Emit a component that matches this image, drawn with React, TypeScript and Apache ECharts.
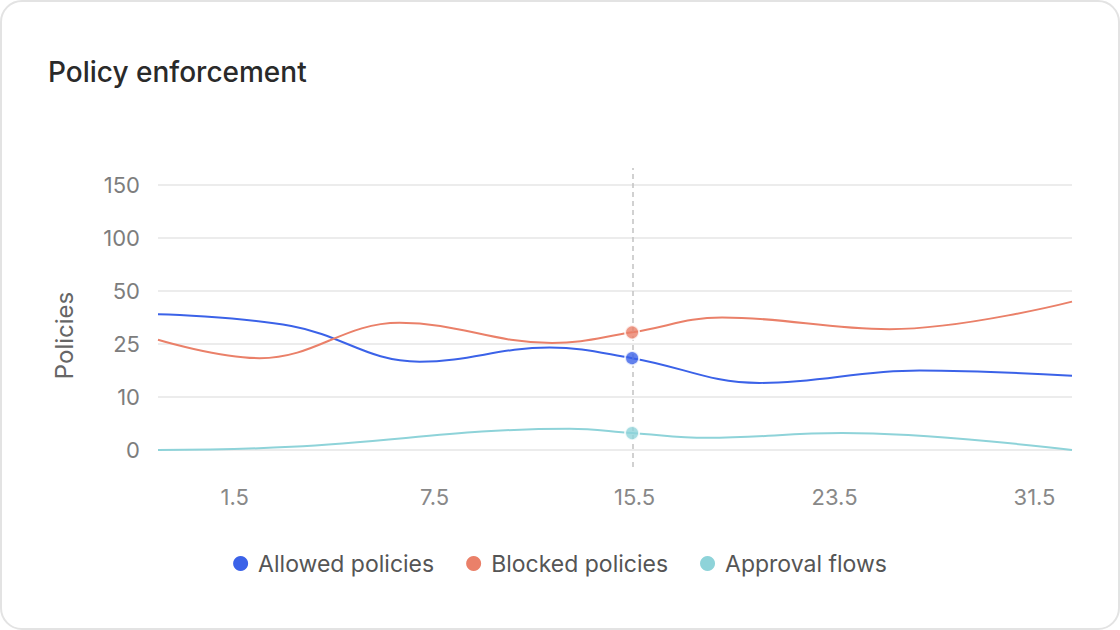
import React, { useEffect, useRef } from 'react';
import * as echarts from 'echarts';

const seriesNames = ['Allowed policies', 'Blocked policies', 'Approval flows'];
const seriesColors = ['#3B62E8', '#EA8069', '#8ED3D9'];
const xTickLabels = [1.5, 7.5, 15.5, 23.5, 31.5];
const yTickLabels = [0, 10, 25, 50, 100, 150];

const allowedDays = [-0.8, 3.2, 7.05, 12.1, 15.4, 20.5, 26.9, 33.0];
const allowed = [39, 33.5, 20, 24, 21, 14, 17.5, 16];
const blockedDays = [-0.8, 2.25, 6.45, 12.2, 15.4, 19.0, 25.7, 33.0];
const blocked = [27, 21, 35, 25.5, 30.5, 37.5, 32, 45];
const approvalDays = [-0.8, 3.2, 12.9, 15.4, 18.4, 23.8, 33.0];
const approval = [0, 0.6, 4.0, 3.2, 2.3, 3.2, 0];
const highlightDay = 15.4;

function piecewise(ticks: number[], v: number): number {
  const n = ticks.length;
  let i = 0;
  if (v <= ticks[0]) i = 0;
  else if (v >= ticks[n - 1]) i = n - 2;
  else {
    while (v > ticks[i + 1]) i++;
  }
  return i + (v - ticks[i]) / (ticks[i + 1] - ticks[i]);
}

const toX = (d: number) => piecewise(xTickLabels, d);
const toY = (v: number) => piecewise(yTickLabels, v);

export default function App() {
  const ref = useRef<HTMLDivElement>(null);
  useEffect(() => {
    if (!ref.current) return;
    const chart = echarts.init(ref.current, null, { renderer: 'svg' });
    const allDays = [allowedDays, blockedDays, approvalDays];
    const allSeries = [allowed, blocked, approval];
    const font = 'Inter, "Noto Sans", sans-serif';
    const lineSeries = allSeries.map((vals, s) => ({
      name: seriesNames[s],
      type: 'line',
      smooth: 0.4,
      symbol: 'circle',
      showSymbol: false,
      z: 3,
      lineStyle: { width: 2, color: seriesColors[s] },
      itemStyle: { color: seriesColors[s] },
      emphasis: { disabled: true },
      data: allDays[s].map((d, i) => [toX(d), toY(vals[i])]),
    }));
    const highlightData = allSeries.map((vals, s) => {
      const i = allDays[s].indexOf(highlightDay);
      return {
        value: [toX(highlightDay), toY(vals[i])],
        itemStyle: { color: seriesColors[s], borderColor: '#ffffff', borderWidth: 2 },
      };
    });
    const option = {
      animation: false,
      textStyle: { fontFamily: font },
      title: {
        text: 'Policy enforcement',
        left: 48,
        top: 58,
        padding: 0,
        textStyle: { fontFamily: font, fontSize: 28, fontWeight: 500, color: '#2a2a2a' },
      },
      legend: {
        data: seriesNames,
        left: 'center',
        top: 547,
        icon: 'circle',
        itemWidth: 15,
        itemHeight: 15,
        itemGap: 32,
        textStyle: { fontFamily: font, fontSize: 23, color: '#555555', padding: [0, 0, 0, 5] },
      },
      grid: { left: 158, right: 48, top: 168, bottom: 163 },
      xAxis: {
        type: 'value',
        min: toX(-0.8),
        max: toX(33.0),
        axisLine: { show: false },
        axisTick: { show: false, customValues: xTickLabels.map((_, i) => i) },
        splitLine: { show: false },
        axisLabel: {
          customValues: xTickLabels.map((_, i) => i),
          formatter: (v: number) => String(xTickLabels[Math.round(v)]),
          fontFamily: font,
          fontSize: 22,
          color: '#888888',
          margin: 19,
        },
      },
      yAxis: {
        type: 'value',
        min: -0.32,
        max: 5.32,
        name: 'Policies',
        nameLocation: 'middle',
        nameGap: 82,
        nameTextStyle: { fontFamily: font, fontSize: 24, color: '#666666', padding: [0, 36, 0, 0] },
        axisLine: { show: false },
        axisTick: { show: false, customValues: yTickLabels.map((_, i) => i) },
        splitLine: { show: true, lineStyle: { color: '#e6e6e6', width: 1.5 } },
        axisLabel: {
          customValues: yTickLabels.map((_, i) => i),
          formatter: (v: number) => String(yTickLabels[Math.round(v)]),
          fontFamily: font,
          fontSize: 22,
          color: '#7d7d7d',
          margin: 18,
        },
      },
      series: [
        {
          name: 'pointer',
          type: 'line',
          data: [],
          z: 1,
          silent: true,
          markLine: {
            silent: true,
            symbol: ['none', 'none'],
            label: { show: false },
            lineStyle: { color: '#c2c2c2', type: [5, 4], width: 1.5 },
            data: [{ xAxis: toX(highlightDay) }],
          },
        },
        ...lineSeries,
        {
          name: 'highlight',
          type: 'scatter',
          symbol: 'circle',
          symbolSize: 14,
          z: 10,
          silent: true,
          data: highlightData,
        },
      ],
    };
    chart.setOption(option as any);
    return () => chart.dispose();
  }, []);
  return (
    <>
      <div
        style={{
          position: 'fixed',
          left: 0,
          top: 0,
          width: 1120,
          height: 630,
          boxSizing: 'border-box',
          border: '2px solid #e3e3e3',
          borderRadius: 22,
          background: '#ffffff',
        }}
      />
      <div ref={ref} style={{ position: 'fixed', left: 0, top: 0, width: 1120, height: 630 }} />
    </>
  );
}
